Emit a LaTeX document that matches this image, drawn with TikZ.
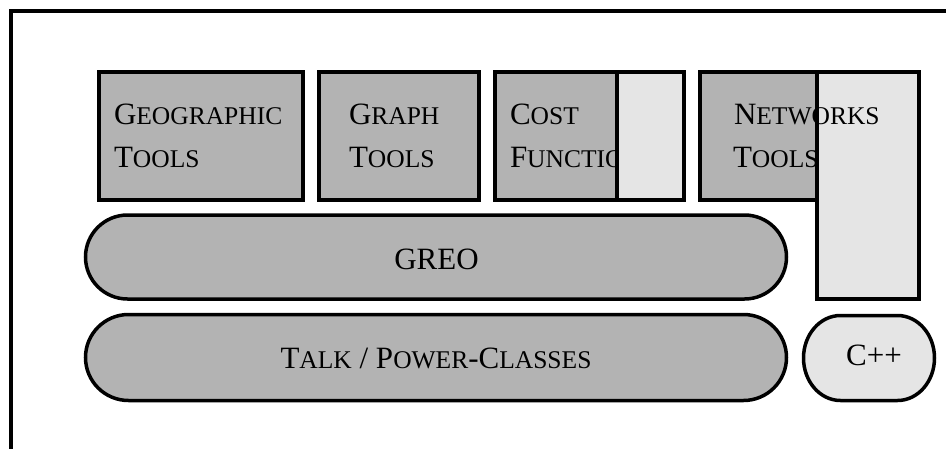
\documentclass[tikz,border=0pt]{standalone}
\usepackage{fontspec}
\setmainfont{Liberation Serif}
\usetikzlibrary{shapes.misc}
\definecolor{darkfill}{HTML}{B3B3B3}
\definecolor{lightfill}{HTML}{E5E5E5}
% faked small capitals: first letter full size, the rest reduced
\newcommand\bigsz{\fontsize{31}{31}\selectfont}
\newcommand\smcap[2]{{\bigsz #1\fontsize{25.5}{25.5}\selectfont #2}}
\tikzset{
  x=1pt, y=-1pt,
  frameline/.style={line width=3.5pt},
  toolbox/.style={rectangle, draw, line width=4pt, fill=darkfill,
    inner sep=0pt, outer sep=0pt},
  lightbox/.style={rectangle, line width=4pt, fill=lightfill,
    inner sep=0pt, outer sep=0pt},
  layer/.style={rounded rectangle, draw, line width=3.5pt, fill=darkfill,
    inner sep=0pt, outer sep=0pt},
  lbl/.style={inner sep=0pt, outer sep=0pt, anchor=base west, font=\bigsz},
  clbl/.style={inner sep=0pt, outer sep=0pt, anchor=base, font=\bigsz},
}
\begin{document}
\begin{tikzpicture}
\useasboundingbox (0,0) rectangle (946,448);
% outer frame, running off the page on the right and bottom
\draw[frameline] (952,11) -- (11,11) -- (11,454);

% top row of tool boxes
\node[toolbox, minimum width=204pt, minimum height=128pt] (geo) at (201,136) {};
\node[lbl] (geoA) at (114,124) {\smcap{G}{EOGRAPHIC}};
\node[lbl] (geoB) at (114,167) {\smcap{T}{OOLS}};

\node[toolbox, minimum width=160pt, minimum height=128pt] (graph) at (399,136) {};
\node[lbl] (graphA) at (349,124) {\smcap{G}{RAPH}};
\node[lbl] (graphB) at (349,167) {\smcap{T}{OOLS}};

\node[toolbox, minimum width=189pt, minimum height=128pt] (cost) at (589.5,136) {};
\node[lbl] (costA) at (510,124) {\smcap{C}{OST}};
\node[lbl] (costB) at (510,167) {\smcap{F}{UNCTIONS}};
\node[toolbox, fill=lightfill, minimum width=67pt, minimum height=128pt] (costext) at (650.5,136) {};

\node[toolbox, minimum width=170pt, minimum height=128pt] (net) at (785,136) {};
\node[lightbox, minimum width=102pt, minimum height=227pt] (cppcol) at (868,185.5) {};
\node[lbl] (netA) at (734,124) {\smcap{N}{ETWORKS}};
\node[lbl] (netB) at (733,167) {\smcap{T}{OOLS}};
\draw[line width=4pt] (cppcol.north west) rectangle (cppcol.south east);

% layers
\node[layer, minimum width=701pt, minimum height=84pt] (greo) at (436,257) {};
\node[clbl] (greoT) at (436.5,269) {GREO};

\node[layer, minimum width=701pt, minimum height=86pt] (talk) at (436,357.5) {};
\node[clbl] (talkT) at (436,368) {\smcap{T}{ALK} / \smcap{P}{OWER}-\smcap{C}{LASSES}};

% C++ base with elliptic ends
\draw[line width=3.5pt, fill=lightfill]
  (840.5,315.5) -- (897.5,315.5)
  arc[start angle=-90, end angle=90, x radius=37, y radius=42.5]
  -- (840.5,400.5)
  arc[start angle=90, end angle=270, x radius=37, y radius=42.5]
  -- cycle;
\node[clbl] (cpp) at (874,365) {C++};
\end{tikzpicture}
\end{document}
